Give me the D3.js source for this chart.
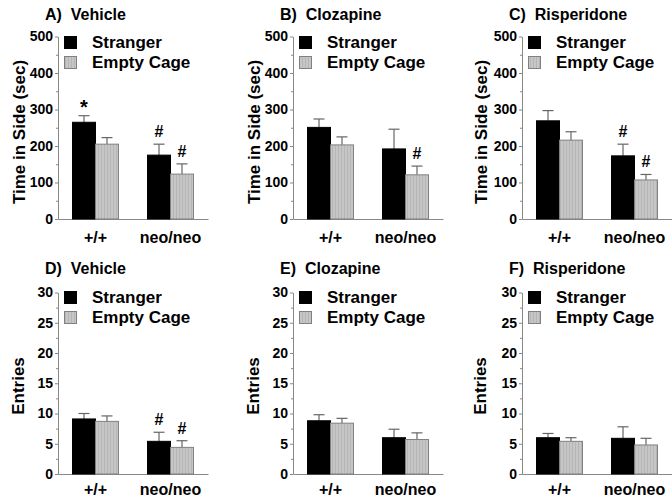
<!DOCTYPE html>
<html>
<head>
<meta charset="utf-8">
<script src="https://cdn.jsdelivr.net/npm/d3@7"></script>
<style>
  body { margin: 0; background: #fff; }
  text { font-family: "Liberation Sans", Arial, sans-serif; font-weight: bold; fill: #000; }
</style>
</head>
<body>
<div id="chart"></div>
<script>
var width = 672;
var height = 499;

// data
var genotypes = ["+/+", "neo/neo"];
var conditions = ["Stranger", "Empty Cage"];
var drugs = ["Vehicle", "Clozapine", "Risperidone"];
var timeLetters = ["A)", "B)", "C)"];
var entryLetters = ["D)", "E)", "F)"];

// [drug][genotype]
var timeStranger = [[265, 175], [251, 192], [269, 173]];
var timeStrangerErr = [[18, 30], [23, 54], [28, 32]];
var timeEmpty = [[205, 123], [203, 121], [216, 107]];
var timeEmptyErr = [[18, 28], [22, 24], [23, 15]];
var timeMarks = [["*", "", "#", "#"], ["", "", "", "#"], ["", "", "#", "#"]];

var entryStranger = [[9.1, 5.4], [8.8, 6.0], [6.0, 5.9]];
var entryStrangerErr = [[0.9, 1.5], [1.0, 1.4], [0.7, 1.9]];
var entryEmpty = [[8.7, 4.4], [8.4, 5.7], [5.4, 4.8]];
var entryEmptyErr = [[0.9, 1.1], [0.8, 1.1], [0.6, 1.1]];
var entryMarks = [["", "", "#", "#"], ["", "", "", ""], ["", "", "", ""]];

var timeTicks = [0, 100, 200, 300, 400, 500];
var entryTicks = [0, 5, 10, 15, 20, 25, 30];

var axisXs = [58, 293, 522];
var labelXs = [25, 260, 487];

var svg = d3.select("#chart").append("svg").attr("width", width).attr("height", height);

var defs = svg.append("defs");
var pat = defs.append("pattern").attr("id", "stripes").attr("patternUnits", "userSpaceOnUse")
    .attr("width", 3).attr("height", 4);
pat.append("rect").attr("width", 3).attr("height", 4).attr("fill", "#c6c6c6");
pat.append("rect").attr("x", 2).attr("width", 1).attr("height", 4).attr("fill", "#b6b6b6");

function panel(opts) {
    var ax = opts.axisX;
    var g = svg.append("g");

    var y = d3.scaleLinear().domain([0, opts.max]).range([opts.y0, opts.yTop]);
    var x = d3.scaleBand().domain(genotypes).range([ax, ax + 150])
        .paddingInner(0.387).paddingOuter(0.1935);
    var xs = d3.scaleBand().domain(conditions).range([0, x.bandwidth()]);

    // minor ticks
    var minor = [];
    for (var i = 0; i < opts.ticks.length - 1; i++) minor.push((opts.ticks[i] + opts.ticks[i + 1]) / 2);
    g.append("g").attr("transform", "translate(" + ax + ",0)")
        .call(d3.axisLeft(y).tickValues(minor).tickSize(2).tickSizeOuter(0).tickFormat(""))
        .call(function (s) { s.select(".domain").remove(); s.selectAll("line").attr("stroke", "#888"); });

    var yAxis = g.append("g").attr("transform", "translate(" + ax + ",0)")
        .call(d3.axisLeft(y).tickValues(opts.ticks).tickSize(3).tickSizeOuter(0).tickPadding(2));
    yAxis.select(".domain").attr("stroke", "#888");
    yAxis.selectAll("line").attr("stroke", "#888");
    yAxis.selectAll("text").attr("font-size", 14).attr("font-family", null).style("font-weight", "bold");

    var xAxis = g.append("g").attr("transform", "translate(0," + opts.y0 + ")")
        .call(d3.axisBottom(x).tickSize(0).tickSizeOuter(0).tickPadding(opts.xPad));
    xAxis.select(".domain").attr("stroke", "#888");
    xAxis.selectAll("text").attr("font-size", 16).attr("font-family", null);

    var rows = [];
    genotypes.forEach(function (gt, gi) {
        rows.push({ g: gt, c: "Stranger", v: opts.s[gi], e: opts.se[gi], m: opts.marks[gi * 2] });
        rows.push({ g: gt, c: "Empty Cage", v: opts.e[gi], e: opts.ee[gi], m: opts.marks[gi * 2 + 1] });
    });

    // error bars (behind bars)
    var eb = g.selectAll(".err").data(rows).enter().append("g").attr("class", "err");
    eb.append("line")
        .attr("x1", function (d) { return x(d.g) + xs(d.c) + xs.bandwidth() / 2; })
        .attr("x2", function (d) { return x(d.g) + xs(d.c) + xs.bandwidth() / 2; })
        .attr("y1", function (d) { return y(d.v); })
        .attr("y2", function (d) { return y(d.v + d.e); })
        .attr("stroke", "#666").attr("stroke-width", 1.2);
    eb.append("line")
        .attr("x1", function (d) { return x(d.g) + xs(d.c) + xs.bandwidth() / 2 - 5.5; })
        .attr("x2", function (d) { return x(d.g) + xs(d.c) + xs.bandwidth() / 2 + 5.5; })
        .attr("y1", function (d) { return y(d.v + d.e); })
        .attr("y2", function (d) { return y(d.v + d.e); })
        .attr("stroke", "#666").attr("stroke-width", 1.2);

    g.selectAll(".bar").data(rows).enter().append("rect").attr("class", "bar")
        .attr("x", function (d) { return x(d.g) + xs(d.c); })
        .attr("y", function (d) { return y(d.v); })
        .attr("width", xs.bandwidth())
        .attr("height", function (d) { return opts.y0 - y(d.v); })
        .attr("fill", function (d) { return d.c === "Stranger" ? "#000" : "url(#stripes)"; })
        .attr("stroke", function (d) { return d.c === "Stranger" ? "#000" : "#808080"; })
        .attr("stroke-width", 1);

    g.selectAll(".mark").data(rows.filter(function (d) { return d.m; })).enter().append("text")
        .attr("x", function (d) { return x(d.g) + xs(d.c) + xs.bandwidth() / 2; })
        .attr("y", function (d) { return y(d.v + d.e) - (d.m === "*" ? 2 : 7); })
        .attr("text-anchor", "middle")
        .attr("font-size", function (d) { return d.m === "*" ? 20 : 16; })
        .text(function (d) { return d.m; });

    // legend
    conditions.forEach(function (c, i) {
        var ly = opts.legendY + i * 20;
        g.append("rect").attr("x", ax + 6.5).attr("y", ly - 11.5).attr("width", 12).attr("height", 12)
            .attr("fill", i === 0 ? "#000" : "url(#stripes)")
            .attr("stroke", i === 0 ? "#000" : "#808080");
        g.append("text").attr("x", ax + 34).attr("y", ly).attr("font-size", 17).text(c);
    });

    g.append("text").attr("x", ax - 13).attr("y", opts.titleY).attr("font-size", 16)
        .style("white-space", "pre").text(opts.title);

    g.append("text")
        .attr("transform", "translate(" + opts.labelX + "," + opts.labelY + ")rotate(-90)")
        .attr("text-anchor", "middle").attr("font-size", 17).text(opts.ylabel);
}

drugs.forEach(function (drug, i) {
    panel({
        axisX: axisXs[i], labelX: labelXs[i], labelY: 132,
        y0: 219, yTop: 36.5, max: 500, ticks: timeTicks, xPad: 13,
        s: timeStranger[i], se: timeStrangerErr[i], e: timeEmpty[i], ee: timeEmptyErr[i],
        marks: timeMarks[i], legendY: 48, titleY: 20,
        title: timeLetters[i] + "  " + drug, ylabel: "Time in Side (sec)"
    });
    panel({
        axisX: axisXs[i], labelX: labelXs[i] - 1, labelY: 386,
        y0: 474, yTop: 292.5, max: 30, ticks: entryTicks, xPad: 10,
        s: entryStranger[i], se: entryStrangerErr[i], e: entryEmpty[i], ee: entryEmptyErr[i],
        marks: entryMarks[i], legendY: 303, titleY: 274,
        title: entryLetters[i] + "  " + drug, ylabel: "Entries"
    });
});
</script>
</body>
</html>
